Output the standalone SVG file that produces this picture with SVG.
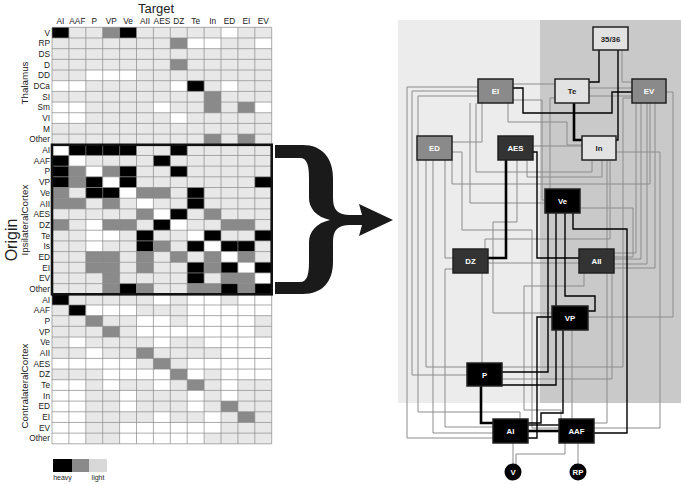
<svg xmlns="http://www.w3.org/2000/svg" width="685" height="485" viewBox="0 0 685 485">
<style>
.t{font-family:"Liberation Sans",Arial,sans-serif;font-size:8.3px;fill:#222}
.gl{font-size:9.8px}
.re{text-anchor:end}
.ce{text-anchor:middle}
.k{fill:#000}.g{fill:#8a8a8a}.w{fill:#fff}
.grid{fill:none;stroke:#8a8a8a;stroke-width:0.7}
.c1{fill:none;stroke:#8c8c8c;stroke-width:1}
.c2{fill:none;stroke:#000;stroke-width:1.4}
.c3{fill:none;stroke:#000;stroke-width:2.6}
.nd{stroke:#222;stroke-width:1.5}
.nt{font-family:"Liberation Sans",Arial,sans-serif;font-size:7.8px;font-weight:bold;text-anchor:middle}
</style>

<!-- Matrix -->
<g id="matrix">
<text class="t ce" x="156" y="13" style="font-size:13px">Target</text>
<g class="t ce">
<text x="60.5" y="24">AI</text><text x="77.4" y="24">AAF</text><text x="94.3" y="24">P</text><text x="111.2" y="24">VP</text><text x="128.1" y="24">Ve</text><text x="145" y="24">AII</text><text x="161.9" y="24">AES</text><text x="178.8" y="24">DZ</text><text x="195.7" y="24">Te</text><text x="212.6" y="24">In</text><text x="229.5" y="24">ED</text><text x="246.4" y="24">EI</text><text x="263.3" y="24">EV</text>
</g>
<g class="t re">
<text x="50" y="35.6">V</text><text x="50" y="46.3">RP</text><text x="50" y="57">DS</text><text x="50" y="67.6">D</text><text x="50" y="78.3">DD</text><text x="50" y="89">DCa</text><text x="50" y="99.7">SI</text><text x="50" y="110.4">Sm</text><text x="50" y="121">VI</text><text x="50" y="131.7">M</text><text x="50" y="142.4">Other</text>
<text x="50" y="153.1">AI</text><text x="50" y="163.8">AAF</text><text x="50" y="174.4">P</text><text x="50" y="185.1">VP</text><text x="50" y="195.8">Ve</text><text x="50" y="206.5">AII</text><text x="50" y="217.2">AES</text><text x="50" y="227.8">DZ</text><text x="50" y="238.5">Te</text><text x="50" y="249.2">Is</text><text x="50" y="259.9">ED</text><text x="50" y="270.6">EI</text><text x="50" y="281.2">EV</text><text x="50" y="291.9">Other</text>
<text x="50" y="302.6">AI</text><text x="50" y="313.3">AAF</text><text x="50" y="324">P</text><text x="50" y="334.6">VP</text><text x="50" y="345.3">Ve</text><text x="50" y="356">AII</text><text x="50" y="366.7">AES</text><text x="50" y="377.4">DZ</text><text x="50" y="388">Te</text><text x="50" y="398.7">In</text><text x="50" y="409.4">ED</text><text x="50" y="420.1">EI</text><text x="50" y="430.8">EV</text><text x="50" y="441.4">Other</text>
</g>
<text class="t gl ce" transform="translate(28,83) rotate(-90)">Thalamus</text>
<text class="t gl ce" transform="translate(28,220) rotate(-90)">IpsilateralCortex</text>
<text class="t gl ce" transform="translate(28,386) rotate(-90)">ContralateralCortex</text>
<text class="t ce" style="font-size:16px" transform="translate(17,240) rotate(-90)">Origin</text>

<g transform="translate(52,27.3) scale(16.9,10.68)">
<rect x="0" y="0" width="13" height="39" fill="#e8e8e8"/>
<!-- thalamus -->
<rect class="k" x="0" y="0" width="1" height="1"/><rect class="g" x="3" y="0" width="1" height="1"/><rect class="k" x="4" y="0" width="1" height="1"/><rect class="w" x="10" y="0" width="1" height="1"/>
<rect class="g" x="7" y="1" width="1" height="1"/><rect class="w" x="8" y="1" width="2" height="1"/><rect class="w" x="12" y="1" width="1" height="1"/>
<rect class="g" x="7" y="3" width="1" height="1"/>
<rect class="w" x="2" y="4" width="3" height="1"/>
<rect class="w" x="0" y="5" width="2" height="1"/><rect class="w" x="7" y="5" width="1" height="1"/><rect class="k" x="8" y="5" width="1" height="1"/><rect class="w" x="10" y="5" width="1" height="1"/>
<rect class="g" x="9" y="6" width="1" height="1"/>
<rect class="w" x="0" y="7" width="2" height="1"/><rect class="w" x="6" y="7" width="1" height="1"/><rect class="g" x="9" y="7" width="1" height="1"/><rect class="g" x="11" y="7" width="1" height="1"/><rect class="w" x="12" y="7" width="1" height="1"/>
<rect class="w" x="0" y="8" width="2" height="1"/><rect class="w" x="7" y="8" width="1" height="1"/>
<rect class="g" x="9" y="10" width="1" height="1"/><rect class="g" x="11" y="10" width="1" height="1"/>
<!-- ipsilateral -->
<rect class="w" x="0" y="11" width="1" height="1"/><rect class="k" x="1" y="11" width="4" height="1"/><rect class="k" x="7" y="11" width="1" height="1"/>
<rect class="k" x="0" y="12" width="1" height="1"/><rect class="w" x="1" y="12" width="1" height="1"/><rect class="k" x="6" y="12" width="1" height="1"/>
<rect class="k" x="0" y="13" width="1" height="1"/><rect class="g" x="1" y="13" width="1" height="1"/><rect class="w" x="2" y="13" width="1" height="1"/><rect class="g" x="3" y="13" width="1" height="1"/><rect class="k" x="4" y="13" width="1" height="1"/><rect class="k" x="7" y="13" width="1" height="1"/>
<rect class="k" x="0" y="14" width="1" height="1"/><rect class="g" x="1" y="14" width="1" height="1"/><rect class="k" x="2" y="14" width="1" height="1"/><rect class="w" x="3" y="14" width="1" height="1"/><rect class="k" x="4" y="14" width="1" height="1"/><rect class="k" x="12" y="14" width="1" height="1"/>
<rect class="g" x="0" y="15" width="1" height="1"/><rect class="k" x="2" y="15" width="2" height="1"/><rect class="w" x="4" y="15" width="1" height="1"/><rect class="g" x="5" y="15" width="2" height="1"/><rect class="k" x="8" y="15" width="1" height="1"/>
<rect class="g" x="0" y="16" width="2" height="1"/><rect class="g" x="3" y="16" width="1" height="1"/><rect class="w" x="5" y="16" width="1" height="1"/><rect class="k" x="8" y="16" width="1" height="1"/>
<rect class="g" x="5" y="17" width="1" height="1"/><rect class="w" x="6" y="17" width="1" height="1"/><rect class="k" x="7" y="17" width="1" height="1"/><rect class="g" x="9" y="17" width="1" height="1"/>
<rect class="g" x="0" y="18" width="1" height="1"/><rect class="w" x="2" y="18" width="1" height="1"/><rect class="g" x="3" y="18" width="2" height="1"/><rect class="k" x="6" y="18" width="1" height="1"/><rect class="w" x="7" y="18" width="1" height="1"/><rect class="g" x="10" y="18" width="2" height="1"/>
<rect class="w" x="2" y="19" width="2" height="1"/><rect class="k" x="5" y="19" width="1" height="1"/><rect class="w" x="8" y="19" width="1" height="1"/><rect class="k" x="9" y="19" width="1" height="1"/><rect class="k" x="12" y="19" width="1" height="1"/>
<rect class="w" x="2" y="20" width="1" height="1"/><rect class="k" x="5" y="20" width="1" height="1"/><rect class="g" x="6" y="20" width="1" height="1"/><rect class="k" x="8" y="20" width="1" height="1"/><rect class="w" x="9" y="20" width="1" height="1"/><rect class="k" x="10" y="20" width="2" height="1"/>
<rect class="g" x="2" y="21" width="2" height="1"/><rect class="g" x="5" y="21" width="1" height="1"/><rect class="g" x="7" y="21" width="1" height="1"/><rect class="g" x="9" y="21" width="1" height="1"/><rect class="w" x="10" y="21" width="1" height="1"/><rect class="g" x="11" y="21" width="1" height="1"/>
<rect class="g" x="2" y="22" width="2" height="1"/><rect class="g" x="5" y="22" width="1" height="1"/><rect class="k" x="8" y="22" width="1" height="1"/><rect class="g" x="9" y="22" width="1" height="1"/><rect class="k" x="10" y="22" width="1" height="1"/><rect class="w" x="11" y="22" width="1" height="1"/><rect class="k" x="12" y="22" width="1" height="1"/>
<rect class="g" x="3" y="23" width="1" height="1"/><rect class="k" x="8" y="23" width="1" height="1"/><rect class="g" x="10" y="23" width="2" height="1"/><rect class="w" x="12" y="23" width="1" height="1"/>
<rect class="g" x="3" y="24" width="1" height="1"/><rect class="k" x="4" y="24" width="1" height="1"/><rect class="g" x="5" y="24" width="1" height="1"/><rect class="g" x="8" y="24" width="2" height="1"/><rect class="k" x="10" y="24" width="1" height="1"/><rect class="g" x="11" y="24" width="1" height="1"/><rect class="k" x="12" y="24" width="1" height="1"/>
<!-- contralateral -->
<rect class="k" x="0" y="25" width="1" height="1"/><rect class="w" x="6" y="25" width="1" height="1"/><rect class="w" x="8" y="25" width="2" height="1"/><rect class="w" x="11" y="25" width="2" height="1"/>
<rect class="k" x="1" y="26" width="1" height="1"/><rect class="w" x="2" y="26" width="3" height="1"/><rect class="w" x="8" y="26" width="5" height="1"/>
<rect class="g" x="2" y="27" width="1" height="1"/><rect class="w" x="5" y="27" width="2" height="1"/><rect class="w" x="8" y="27" width="4" height="1"/>
<rect class="g" x="3" y="28" width="1" height="1"/><rect class="w" x="5" y="28" width="7" height="1"/>
<rect class="w" x="1" y="29" width="1" height="1"/><rect class="w" x="6" y="29" width="1" height="1"/><rect class="w" x="9" y="29" width="4" height="1"/>
<rect class="w" x="2" y="30" width="1" height="1"/><rect class="g" x="5" y="30" width="1" height="1"/><rect class="w" x="10" y="30" width="3" height="1"/>
<rect class="w" x="0" y="31" width="5" height="1"/><rect class="g" x="6" y="31" width="1" height="1"/><rect class="w" x="8" y="31" width="5" height="1"/>
<rect class="w" x="3" y="32" width="4" height="1"/><rect class="g" x="7" y="32" width="1" height="1"/><rect class="w" x="8" y="32" width="1" height="1"/><rect class="w" x="10" y="32" width="3" height="1"/>
<rect class="w" x="0" y="33" width="2" height="1"/><rect class="w" x="3" y="33" width="1" height="1"/><rect class="w" x="6" y="33" width="1" height="1"/><rect class="g" x="8" y="33" width="1" height="1"/><rect class="w" x="10" y="33" width="1" height="1"/>
<rect class="w" x="0" y="34" width="2" height="1"/><rect class="w" x="4" y="34" width="1" height="1"/><rect class="w" x="8" y="34" width="1" height="1"/><rect class="w" x="10" y="34" width="1" height="1"/>
<rect class="w" x="0" y="35" width="2" height="1"/><rect class="w" x="4" y="35" width="1" height="1"/><rect class="w" x="8" y="35" width="1" height="1"/><rect class="g" x="10" y="35" width="1" height="1"/>
<rect class="w" x="0" y="36" width="2" height="1"/><rect class="w" x="6" y="36" width="1" height="1"/><rect class="w" x="9" y="36" width="1" height="1"/><rect class="g" x="11" y="36" width="1" height="1"/>
<rect class="w" x="0" y="37" width="2" height="1"/><rect class="w" x="4" y="37" width="6" height="1"/>
<rect class="w" x="0" y="38" width="2" height="1"/><rect class="w" x="4" y="38" width="5" height="1"/>
<path class="grid" vector-effect="non-scaling-stroke" d="M0,0H13M0,1H13M0,2H13M0,3H13M0,4H13M0,5H13M0,6H13M0,7H13M0,8H13M0,9H13M0,10H13M0,11H13M0,12H13M0,13H13M0,14H13M0,15H13M0,16H13M0,17H13M0,18H13M0,19H13M0,20H13M0,21H13M0,22H13M0,23H13M0,24H13M0,25H13M0,26H13M0,27H13M0,28H13M0,29H13M0,30H13M0,31H13M0,32H13M0,33H13M0,34H13M0,35H13M0,36H13M0,37H13M0,38H13M0,39H13M0,0V39M1,0V39M2,0V39M3,0V39M4,0V39M5,0V39M6,0V39M7,0V39M8,0V39M9,0V39M10,0V39M11,0V39M12,0V39M13,0V39"/>
</g>
<rect x="52" y="144.8" width="219.7" height="149.5" fill="none" stroke="#111" stroke-width="2.6"/>
</g>

<!-- legend -->
<g id="legend">
<rect x="53" y="459" width="19" height="13" fill="#000"/>
<rect x="72" y="459" width="17" height="13" fill="#8a8a8a"/>
<rect x="89" y="459" width="18" height="13" fill="#d8d8d8"/>
<text class="t ce" style="font-size:7px" x="62.5" y="480">heavy</text>
<text class="t ce" style="font-size:7px" x="98" y="480">light</text>
</g>

<!-- brace and arrow -->
<path id="brace" fill="#1a1a1a" d="M275,145 H303 C322,145 333,158 333,178 L333,198 C333,210 338,215 350,215 L362,215 L359,204 L393,220 L359,236 L362,225 L350,225 C338,225 333,230 333,242 L333,262 C333,282 322,294 303,294 H275 V282 H300 C307,282 309,275 309,262 L309,242 C309,232 316,223 330,220 C316,217 309,208 309,198 L309,178 C309,165 307,158 300,158 H275 Z"/>

<!-- graph backgrounds -->
<rect x="398" y="20" width="142" height="383" fill="#ececec"/>
<rect x="540" y="20" width="141" height="383" fill="#c9c9c9"/>

<g id="connectors">
<path class="c1" d="M478,87 H407 V438 H493"/>
<path class="c1" d="M478,91 H412 V375 H467"/>
<path class="c1" d="M478,96 H418 V412 H520 V419"/>
<path class="c1" d="M452,142 H482 V103"/>
<path class="c1" d="M622,50 V82 H632"/>
<path class="c1" d="M589,88 H632"/>
<path class="c1" d="M589,96 H632"/>
<path class="c1" d="M513,84 H555"/>
<path class="c1" d="M666,92 H673 V317 H588"/>
<path class="c1" d="M508,103 V122 H567 V145 H582"/>
<path class="c1" d="M533,146 H582"/>
<path class="c1" d="M580,208 H633 V257 H614"/>
<path class="c1" d="M488,263 H579"/>
<path class="c1" d="M482,273 V363"/>
<path class="c1" d="M513,443 V464"/>
<path class="c1" d="M565,443 V454 H516 V464"/>
<path class="c1" d="M578,443 V464"/>
<path class="c1" d="M614,253 H636 V103"/>
<path class="c1" d="M614,259 H641 V103"/>
<path class="c1" d="M614,264 H647 V103"/>
<path class="c1" d="M614,268 H655 V103"/>
<path class="c1" d="M502,367 H623 V98 H632"/>
<path class="c1" d="M502,379 H612 V273"/>
<path class="c1" d="M426,160 V367 H467"/>
<path class="c1" d="M433,160 V433 H493"/>
<path class="c1" d="M445,160 V258 H453"/>
<path class="c1" d="M453,269 H445 V427 H493"/>
<path class="c1" d="M452,160 V184 H650 V103"/>
<path class="c1" d="M470,103 V203 H545"/>
<path class="c1" d="M476,103 V172 H592 V159"/>
<path class="c1" d="M555,98 H550 V189"/>
<path class="c1" d="M513,100 H542 V200 H545"/>
<path class="c1" d="M452,152 H462 V230 H532 V428 H559"/>
<path class="c1" d="M616,152 H660 V428 H594"/>
<path class="c1" d="M594,423 H607 V159"/>
<path class="c1" d="M572,330 V419"/>
<path class="c1" d="M485,249 V239 H610 V159"/>
<path class="c1" d="M584,273 V286 H524 V410 H561 V419"/>
<path class="c1" d="M517,159 V222 H493 V313 H552"/>
<path class="c1" d="M527,159 V177 H602 V159"/>
<path class="c2" d="M599,50 V82 H589"/>
<path class="c2" d="M618,50 V140 H616"/>
<path class="c2" d="M513,88 H523 V113 H612 V92 H632"/>
<path class="c2" d="M533,152 H537 V258 H579"/>
<path class="c2" d="M573,213 V229 H627 V433 H594"/>
<path class="c2" d="M548,213 V372 H502"/>
<path class="c2" d="M565,213 V296 H595 V311 H588"/>
<path class="c2" d="M556,213 V306"/>
<path class="c2" d="M502,385 H556 V330"/>
<path class="c2" d="M563,330 V413 H541 V423 H528"/>
<path class="c2" d="M528,438 H537 V317 H552"/>
<path class="c2" d="M528,425 H559"/>
<path class="c3" d="M574,103 V140 H582"/>
<path class="c3" d="M506,159 V258 H488"/>
<path class="c3" d="M481,386 V423 H493"/>
<path class="c3" d="M528,431 H559"/>
</g>

<g id="n-3536"><rect class="nd" x="593" y="27" width="35" height="23" fill="#e2e2e2"/><text class="nt" x="610.5" y="41.5" fill="#222">35/36</text></g>
<g id="n-EI"><rect class="nd" x="478" y="79" width="35" height="24" fill="#8a8a8a"/><text class="nt" x="495.5" y="94" fill="#fff">EI</text></g>
<g id="n-Te"><rect class="nd" x="555" y="79" width="34" height="24" fill="#e2e2e2"/><text class="nt" x="572" y="94" fill="#222">Te</text></g>
<g id="n-EV"><rect class="nd" x="632" y="79" width="34" height="24" fill="#8a8a8a"/><text class="nt" x="649" y="94" fill="#fff">EV</text></g>
<g id="n-ED"><rect class="nd" x="417" y="136" width="35" height="24" fill="#8a8a8a"/><text class="nt" x="434.5" y="151" fill="#fff">ED</text></g>
<g id="n-AES"><rect class="nd" x="498" y="136" width="35" height="24" fill="#333"/><text class="nt" x="515.5" y="151" fill="#fff">AES</text></g>
<g id="n-In"><rect class="nd" x="582" y="136" width="34" height="24" fill="#e2e2e2"/><text class="nt" x="599" y="151" fill="#222">In</text></g>
<g id="n-Ve"><rect class="nd" x="545" y="189" width="35" height="24" fill="#000"/><text class="nt" x="562.5" y="204" fill="#fff">Ve</text></g>
<g id="n-DZ"><rect class="nd" x="453" y="249" width="35" height="24" fill="#333"/><text class="nt" x="470.5" y="264" fill="#fff">DZ</text></g>
<g id="n-AII"><rect class="nd" x="579" y="249" width="35" height="24" fill="#333"/><text class="nt" x="596.5" y="264" fill="#fff">AII</text></g>
<g id="n-VP"><rect class="nd" x="552" y="306" width="36" height="24" fill="#000"/><text class="nt" x="570" y="321" fill="#fff">VP</text></g>
<g id="n-P"><rect class="nd" x="467" y="363" width="35" height="23" fill="#000"/><text class="nt" x="484.5" y="377.5" fill="#fff">P</text></g>
<g id="n-AI"><rect class="nd" x="493" y="419" width="35" height="24" fill="#000"/><text class="nt" x="510.5" y="434" fill="#fff">AI</text></g>
<g id="n-AAF"><rect class="nd" x="559" y="419" width="35" height="24" fill="#000"/><text class="nt" x="576.5" y="434" fill="#fff">AAF</text></g>
<g id="n-V"><circle cx="513" cy="472" r="8.5" fill="#000"/><text class="nt" x="513" y="475" fill="#fff">V</text></g>
<g id="n-RP"><circle cx="578" cy="472" r="8.5" fill="#000"/><text class="nt" x="578" y="475" fill="#fff">RP</text></g>
</svg>
